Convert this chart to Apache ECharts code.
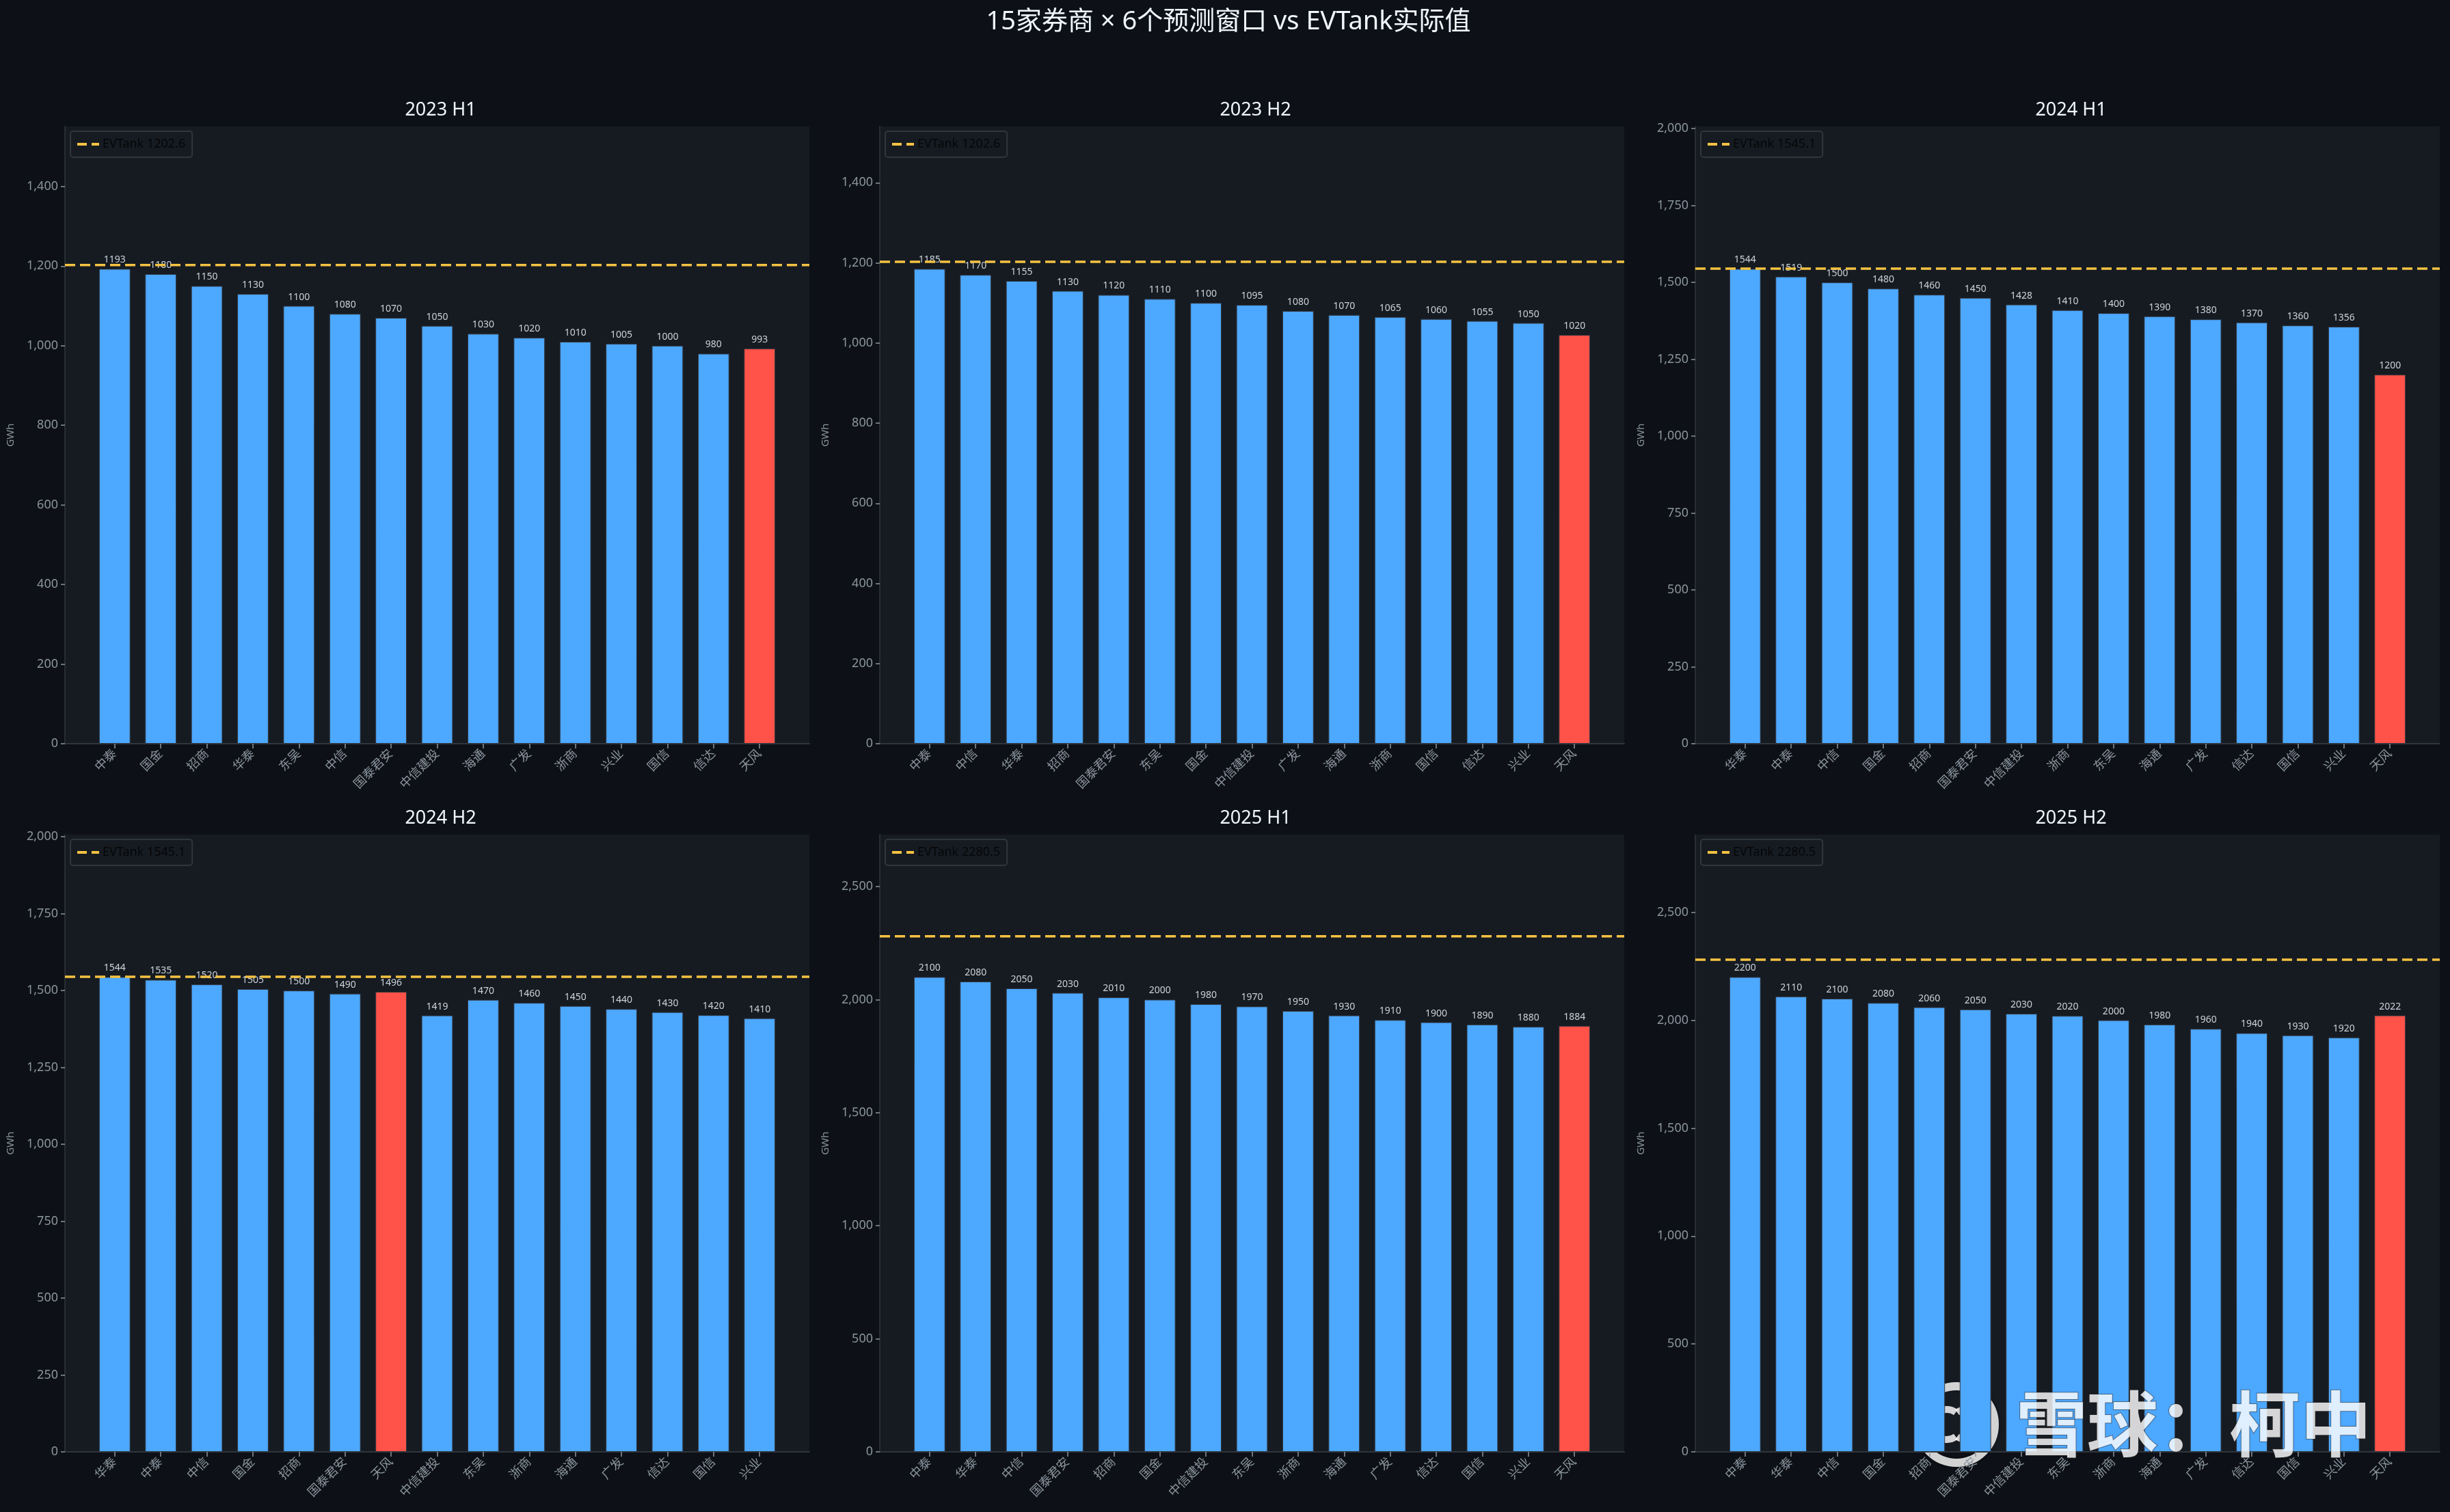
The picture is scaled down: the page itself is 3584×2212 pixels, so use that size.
<!DOCTYPE html>
<html>
<head>
<meta charset="utf-8">
<script src="https://cdn.jsdelivr.net/npm/echarts@6/dist/echarts.min.js"></script>
<style>
html,body{margin:0;padding:0;background:#0d1117;}
#chart{width:3584px;height:2212px;}
</style>
</head>
<body>
<div id="chart"></div>
<script>
// ---------------- data ----------------
const mainTitle = '15家券商 × 6个预测窗口 vs EVTank实际值';
const periods = ['2023 H1', '2023 H2', '2024 H1', '2024 H2', '2025 H1', '2025 H2'];
const evtank = [1202.6, 1202.6, 1545.1, 1545.1, 2280.5, 2280.5];
const yTickStep = [200, 200, 250, 250, 500, 500];
const highlightName = '天风';
const yUnit = 'GWh';

const cats2023H1 = ['中泰','国金','招商','华泰','东吴','中信','国泰君安','中信建投','海通','广发','浙商','兴业','国信','信达','天风'];
const vals2023H1 = [1193,1180,1150,1130,1100,1080,1070,1050,1030,1020,1010,1005,1000,980,993];

const cats2023H2 = ['中泰','中信','华泰','招商','国泰君安','东吴','国金','中信建投','广发','海通','浙商','国信','信达','兴业','天风'];
const vals2023H2 = [1185,1170,1155,1130,1120,1110,1100,1095,1080,1070,1065,1060,1055,1050,1020];

const cats2024H1 = ['华泰','中泰','中信','国金','招商','国泰君安','中信建投','浙商','东吴','海通','广发','信达','国信','兴业','天风'];
const vals2024H1 = [1544,1519,1500,1480,1460,1450,1428,1410,1400,1390,1380,1370,1360,1356,1200];

const cats2024H2 = ['华泰','中泰','中信','国金','招商','国泰君安','天风','中信建投','东吴','浙商','海通','广发','信达','国信','兴业'];
const vals2024H2 = [1544,1535,1520,1505,1500,1490,1496,1419,1470,1460,1450,1440,1430,1420,1410];

const cats2025H1 = ['中泰','华泰','中信','国泰君安','招商','国金','中信建投','东吴','浙商','海通','广发','信达','国信','兴业','天风'];
const vals2025H1 = [2100,2080,2050,2030,2010,2000,1980,1970,1950,1930,1910,1900,1890,1880,1884];

const cats2025H2 = ['中泰','华泰','中信','国金','招商','国泰君安','中信建投','东吴','浙商','海通','广发','信达','国信','兴业','天风'];
const vals2025H2 = [2200,2110,2100,2080,2060,2050,2030,2020,2000,1980,1960,1940,1930,1920,2022];

const allCats = [cats2023H1, cats2023H2, cats2024H1, cats2024H2, cats2025H1, cats2025H2];
const allVals = [vals2023H1, vals2023H2, vals2024H1, vals2024H2, vals2025H1, vals2025H2];

// ---------------- layout / style ----------------
const FONT = '"Noto Sans", "Noto Sans CJK SC", sans-serif';
const colL = [95, 1287, 2480];
const plotW = 1089;
const rowT = [185, 1221];
const plotH = 903;
const inset = plotW * 0.58 / 16.16;
const BLUE = '#4da8ff', RED = '#ff5249', GOLD = '#f5c242';
const AXIS = '#30363d', TXT = '#8b949e';
const DASH_ICON = 'path://M0 0H14V4H0Z M21 0H32V4H21Z';

const chart = echarts.init(document.getElementById('chart'), null, {renderer: 'canvas'});

const grid = [], xAxis = [], yAxis = [], series = [], legend = [];
const title = [{
  text: mainTitle, left: 1792, top: 8, textAlign: 'center',
  textStyle: {color: '#f0f6fc', fontSize: 38, fontWeight: 'normal', fontFamily: FONT}
}];

for (let i = 0; i < 6; i++) {
  const r = Math.floor(i / 3), c = i % 3;
  const L = colL[c], T = rowT[r];
  const vals = allVals[i], cats = allCats[i];
  const ymax = Math.max(...vals) * 1.3;
  const step = yTickStep[i];
  const ticks = [];
  for (let v = 0; v <= ymax; v += step) ticks.push(v);
  const evName = 'EVTank ' + evtank[i].toFixed(1);

  title.push({
    text: periods[i], left: L + plotW / 2, top: T - 42, textAlign: 'center',
    textStyle: {color: '#f0f6fc', fontSize: 27, fontWeight: 'normal', fontFamily: FONT}
  });

  grid.push({left: L, top: T, width: plotW, height: plotH, show: true,
             backgroundColor: '#161b22', borderWidth: 0, containLabel: false});
  grid.push({left: L + inset, top: T, width: plotW - 2 * inset, height: plotH, containLabel: false});

  const gBg = 2 * i, gBar = 2 * i + 1;

  xAxis.push({
    gridIndex: gBg, type: 'value', min: 0, max: 1, position: 'bottom',
    axisLine: {show: true, onZero: false, lineStyle: {color: AXIS, width: 2}},
    axisTick: {show: false}, axisLabel: {show: false}, splitLine: {show: false}
  });
  yAxis.push({
    gridIndex: gBg, type: 'value', min: 0, max: ymax,
    axisLine: {show: true, lineStyle: {color: AXIS, width: 1.5}},
    axisTick: {show: false}, axisLabel: {show: false}, splitLine: {show: false}
  });

  xAxis.push({
    gridIndex: gBar, type: 'category', data: cats,
    axisLine: {show: false},
    axisTick: {show: true, alignWithLabel: true, length: 7, lineStyle: {color: TXT, width: 1.5}},
    axisLabel: {rotate: 45, interval: 0, color: TXT, fontSize: 18, margin: 12, fontFamily: FONT},
    splitLine: {show: false}
  });
  yAxis.push({
    gridIndex: gBar, type: 'value', min: 0, max: ymax, interval: step, offset: inset,
    name: yUnit, nameLocation: 'middle', nameGap: 72, nameRotate: 90,
    nameTextStyle: {color: TXT, fontSize: 15, fontFamily: FONT},
    axisLine: {show: false},
    axisTick: {show: true, length: 6, customValues: ticks, lineStyle: {color: TXT, width: 1.5}},
    axisLabel: {color: TXT, fontSize: 18, fontFamily: FONT, margin: 10,
                customValues: ticks,
                formatter: v => Number(v).toLocaleString('en-US')},
    splitLine: {show: false}
  });

  series.push({
    type: 'bar', xAxisIndex: gBar, yAxisIndex: gBar, barWidth: '68%',
    data: vals.map((v, k) => ({
      value: v,
      itemStyle: {color: cats[k] === highlightName ? RED : BLUE}
    })),
    itemStyle: {borderColor: AXIS, borderWidth: 1},
    label: {show: true, position: 'top', distance: 6, color: '#c9d1d9', fontSize: 14, fontFamily: FONT},
    z: 2, silent: true
  });
  series.push({
    type: 'line', name: evName, xAxisIndex: gBg, yAxisIndex: gBg,
    data: [[0, evtank[i]], [1, evtank[i]]],
    symbol: 'none', silent: true,
    lineStyle: {color: GOLD, width: 3.5, type: [15, 7]},
    itemStyle: {color: GOLD},
    z: 5
  });

  legend.push({
    left: L + 8, top: T + 7, orient: 'horizontal',
    data: [{name: evName, icon: DASH_ICON, itemStyle: {color: GOLD, borderWidth: 0}}],
    itemWidth: 32, itemHeight: 5, itemGap: 10,
    backgroundColor: '#161b22', borderColor: AXIS, borderWidth: 2, borderRadius: 4,
    padding: [10, 10, 10, 10], selectedMode: false,
    textStyle: {color: '#060606', fontSize: 18, fontFamily: FONT}
  });
}

const option = {
  backgroundColor: '#0d1117',
  animation: false,
  title, grid, xAxis, yAxis, series, legend,
  graphic: [
    {
      type: 'group', left: 2800, top: 2022, z: 100, silent: true,
      children: [
        {type: 'circle', shape: {cx: 66, cy: 66, r: 56},
         style: {fill: 'none', stroke: 'rgba(255,255,255,0.82)', lineWidth: 12, shadowBlur: 4, shadowColor: 'rgba(0,0,0,0.5)'}},
        {type: 'arc', shape: {cx: 52, cy: 66, r: 22, startAngle: Math.PI * 0.3, endAngle: Math.PI * 1.7},
         style: {fill: 'none', stroke: 'rgba(255,255,255,0.82)', lineWidth: 10}},
        {type: 'arc', shape: {cx: 80, cy: 66, r: 22, startAngle: Math.PI * 1.3, endAngle: Math.PI * 0.7},
         style: {fill: 'none', stroke: 'rgba(255,255,255,0.82)', lineWidth: 10}}
      ]
    },
    {
      type: 'text', left: 2948, top: 2030, z: 100, silent: true,
      style: {text: '雪球：柯中', fill: 'rgba(255,255,255,0.82)', font: 'bold 104px "Noto Sans CJK SC"',
              stroke: 'rgba(40,40,40,0.5)', lineWidth: 2, shadowBlur: 4, shadowColor: 'rgba(0,0,0,0.5)'}
    }
  ]
};
chart.setOption(option);
</script>
</body>
</html>
